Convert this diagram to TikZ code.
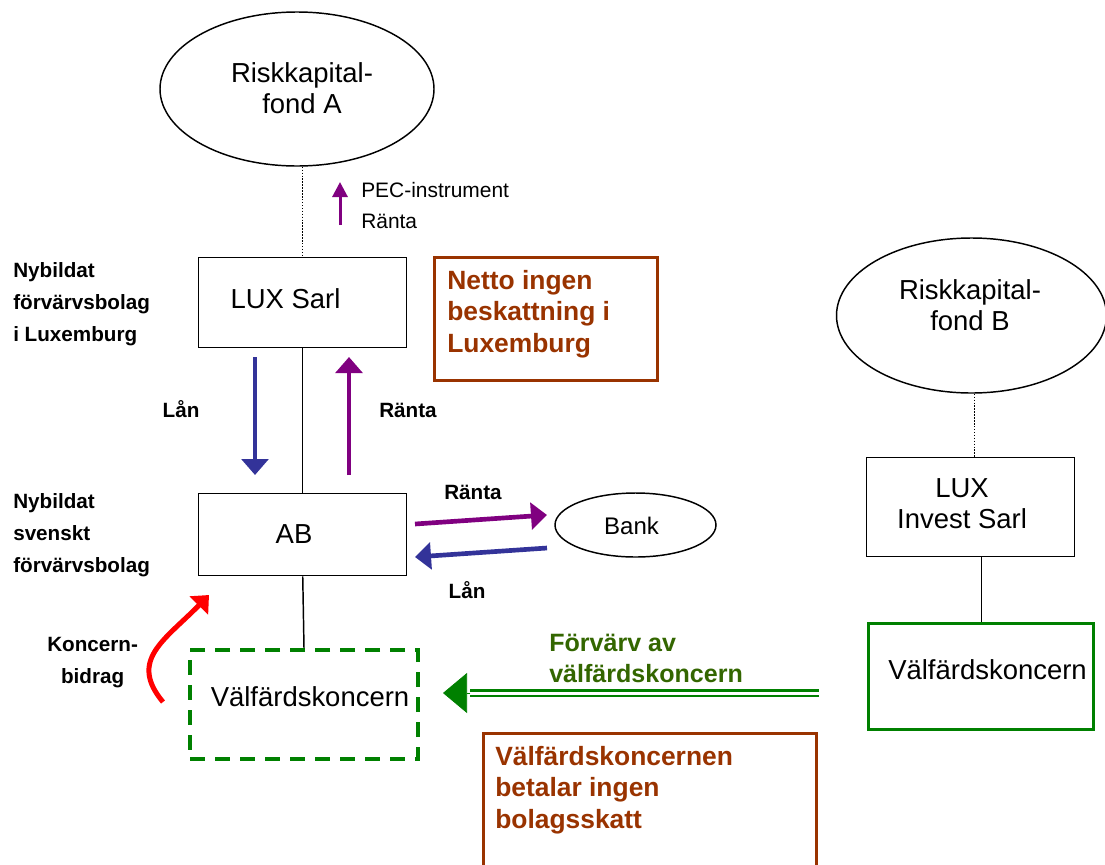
\documentclass[tikz,border=0pt]{standalone}
\usepackage{fontspec}
\setmainfont{Liberation Sans}
\usetikzlibrary{shapes.geometric,arrows.meta}
\definecolor{lblue}{RGB}{51,51,153}
\definecolor{lpurple}{RGB}{128,0,128}
\definecolor{lgreen}{RGB}{0,128,0}
\definecolor{lbrown}{RGB}{153,51,0}
\definecolor{lolive}{RGB}{51,102,0}
\begin{document}
\begin{tikzpicture}[x=0.75pt,y=-0.75pt,
  bigtxt/.style={font=\fontsize{20.6}{23.25}\selectfont, inner sep=0pt, align=center},
  smalltxt/.style={font=\fontsize{15.7}{23.25}\selectfont, inner sep=0pt, align=left},
  lbl/.style={font=\fontsize{15.5}{24}\selectfont\bfseries, inner sep=0pt, align=left},
  notetxt/.style={font=\fontsize{19.8}{23.6}\selectfont\bfseries, inner sep=0pt, align=left, text=lbrown},
  frame/.style={draw, line width=1.1pt, inner sep=0pt, anchor=north west},
  oval/.style={draw, ellipse, line width=1.1pt, inner sep=0pt},
  conn/.style={line width=1.1pt},
  dots/.style={line width=1.1pt, dash pattern=on 1.1pt off 1.1pt},
  fatarrow/.style={line width=3.5pt, -{Triangle[width=20pt,length=12pt]}},
]
\useasboundingbox (0,0) rectangle (1105,864);
\clip (0,0) rectangle (1105,864);

% ellipses
\node[oval, minimum width=205.5pt, minimum height=115.5pt] (fondA) at (297,89) {};
\node[bigtxt] (fondAtxt) at (302,88.5) {Riskkapital-\\fond A};
\node[oval, minimum width=202.5pt, minimum height=116.25pt] (fondB) at (971.5,315.5) {};
\node[bigtxt] (fondBtxt) at (970,305.5) {Riskkapital-\\fond B};
\node[oval, minimum width=120.75pt, minimum height=48pt] (bank) at (635.5,525) {};
\node[bigtxt, font=\fontsize{18}{20}\selectfont] (banktxt) at (631.5,526) {Bank};

% boxes
\node[frame, minimum width=156pt, minimum height=67.5pt] (lux) at (198,257) {};
\node[bigtxt] (luxtxt) at (285.5,299) {LUX Sarl};
\node[frame, minimum width=156pt, minimum height=61.5pt] (ab) at (198,493) {};
\node[bigtxt] (abtxt) at (294,534) {AB};
\node[frame, draw=lgreen, line width=3pt, dash pattern=on 11.25pt off 7.5pt,
      minimum width=171pt, minimum height=81.75pt] (vk1) at (188,648) {};
\node[bigtxt] (vk1txt) at (310,697) {Välfärdskoncern};
\node[frame, draw=lbrown, line width=1.9pt, minimum width=167.25pt, minimum height=92.25pt] (netto) at (433,256) {};
\node[notetxt, anchor=west] (nettotxt) at (447,314) {Netto ingen\\beskattning i\\Luxemburg};
\node[frame, minimum width=156pt, minimum height=74.25pt] (luxinv) at (866,457) {};
\node[bigtxt] (luxinvtxt) at (962,503.5) {LUX\\Invest Sarl};
\node[frame, draw=lgreen, line width=2.6pt, minimum width=168.75pt, minimum height=79.5pt] (vk2) at (867,622) {};
\node[bigtxt] (vk2txt) at (987.5,669.5) {Välfärdskoncern};
\node[frame, draw=lbrown, line width=1.9pt, minimum width=249.75pt, minimum height=112.5pt] (skatt) at (482,732) {};
\node[notetxt, anchor=west] (skatttxt) at (495,790) {Välfärdskoncernen\\betalar ingen\\bolagsskatt};

% side labels
\node[lbl, anchor=west] (lbl1) at (13,304) {Nybildat\\förvärvsbolag\\i Luxemburg};
\node[lbl, anchor=west] (lbl2) at (13,535) {Nybildat\\svenskt\\förvärvsbolag};
\node[lbl, align=center, anchor=west] (lbl3) at (47,663) {Koncern-\\bidrag};
\node[lbl, anchor=base] (lan1) at (181,417) {Lån};
\node[lbl, anchor=base] (ranta1) at (408,417) {Ränta};
\node[lbl, anchor=base] (ranta2) at (473,499) {Ränta};
\node[lbl, anchor=base] (lan2) at (467,598) {Lån};
\node[smalltxt, anchor=west] (pectxt) at (361,206) {PEC-instrument\\Ränta};
\node[font=\fontsize{18.8}{23.25}\selectfont\bfseries, text=lolive, inner sep=0pt, align=left, anchor=west] (fvtxt) at (549,658) {Förvärv av\\välfärdskoncern};

% structural lines
\draw[dots] (fondA.south -| lux.north) -- (lux.north);
\draw[conn] (lux.south) -- (ab.north);
\draw[conn] (ab.south) -- (vk1.north);
\draw[dots] ([xshift=3pt]luxinv.north |- fondB.south) -- ([xshift=3pt]luxinv.north);
\draw[conn] (vk2.north |- luxinv.south) -- (vk2.north);

% arrow coordinates
\coordinate (pecA) at (340,225);
\coordinate (pecB) at (340,182);
\coordinate (lanA) at (255,357);
\coordinate (lanB) at (255,475);
\coordinate (rA) at (349,475);
\coordinate (rB) at (349,357);
\coordinate (br1) at (415,524);
\coordinate (br2) at (547,515);
\coordinate (bl1) at (547,548);
\coordinate (bl2) at (415,557);
\coordinate (kb1) at (163,702);
\coordinate (kb2) at (209,595);
\coordinate (fv1) at (819,693);
\coordinate (fv2) at (443,693);
\coordinate (fv3) at (470,693);

% arrows
\draw[lpurple, line width=2.25pt, -{Triangle[width=11.25pt,length=11.25pt]}] (pecA) -- (pecB);
\draw[lblue, fatarrow] (lanA) -- (lanB);
\draw[lpurple, fatarrow] (rA) -- (rB);
\draw[lpurple, fatarrow] (br1) -- (br2);
\draw[lblue, fatarrow] (bl1) -- (bl2);
\draw[red, line width=3.75pt, -{Triangle[width=19pt,length=11pt]}] (kb1) .. controls (128,660) and (165,640) .. (kb2);
\draw[lgreen, line width=1.7pt, double=white, double distance=2.25pt] (fv1) -- (fv3);
\draw[lgreen, line width=0.5pt, -{Triangle[width=30pt,length=18pt]}] (fv3) -- (fv2);
\end{tikzpicture}
\end{document}
